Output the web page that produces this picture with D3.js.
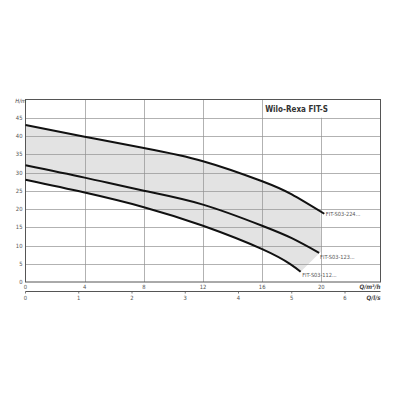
<!DOCTYPE html>
<html>
<head>
<meta charset="utf-8">
<script src="https://cdn.jsdelivr.net/npm/d3@7"></script>
<style>
body { margin: 0; background: #fff; }
svg text { font-family: "DejaVu Sans Condensed", "DejaVu Sans", sans-serif; }
</style>
</head>
<body>
<svg id="chart" width="400" height="400"></svg>
<script>
// pump curves, Q in m3/h, H in m
const curveNames = ["FIT-S03-224...", "FIT-S03-123...", "FIT-S03-112..."];
const flow224 = [0, 4, 8, 12, 16, 18, 20.2];
const head224 = [43, 39.8, 36.7, 33.1, 27.6, 24.0, 18.7];
const flow123 = [0, 4, 8, 12, 16, 18, 19.85];
const head123 = [32, 28.6, 25.0, 21.2, 15.4, 12.0, 8.0];
const flow112 = [0, 4, 8, 12, 16, 17.9, 18.6];
const head112 = [28, 24.5, 20.5, 15.4, 9.0, 4.9, 2.8];
const qTicks = [0, 4, 8, 12, 16, 20];
const lsTicks = [0, 1, 2, 3, 4, 5, 6];
const hTicks = [0, 5, 10, 15, 20, 25, 30, 35, 40, 45];

const svg = d3.select("#chart");
const mLeft = 25.5, mRight = 380.5, mTop = 99.5, mBottom = 282;

const x = d3.scaleLinear().domain([0, 24]).range([mLeft, mRight]);
const y = d3.scaleLinear().domain([0, 50]).range([mBottom, mTop]);
const xls = d3.scaleLinear().domain([0, 24 / 3.6]).range([mLeft, mRight]);

const pts = (q, h) => q.map((d, i) => [d, h[i]]);
const c224 = pts(flow224, head224);
const c123 = pts(flow123, head123);
const c112 = pts(flow112, head112);

const line = d3.line().x(d => x(d[0])).y(d => y(d[1])).curve(d3.curveNatural);

// sample a drawn curve so the shading follows it
function sample(c, q1) {
  const p = svg.append("path").attr("d", line(c)).attr("fill", "none").node();
  const len = p.getTotalLength();
  const out = [];
  for (let i = 0; i <= 200; i++) {
    const pt = p.getPointAtLength(len * i / 200);
    if (x.invert(pt.x) <= q1) out.push([pt.x, pt.y]);
  }
  p.remove();
  return out;
}
const upper = sample(c224, 20);
const lower = sample(c112, 30).reverse();
const poly = upper.concat([[x(20), y(8.4)]], lower);
svg.append("path")
  .attr("d", "M" + poly.map(p => p.join(",")).join("L") + "Z")
  .attr("fill", "#e3e3e3");

// grid
const grid = svg.append("g").attr("stroke", "#909090").attr("stroke-width", 0.7);
hTicks.filter(d => d > 0).forEach(d => {
  grid.append("line").attr("x1", mLeft).attr("x2", mRight)
    .attr("y1", Math.round(y(d)) + 0.5).attr("y2", Math.round(y(d)) + 0.5);
});
qTicks.filter(d => d > 0).forEach(d => {
  grid.append("line").attr("x1", Math.round(x(d)) + 0.5).attr("x2", Math.round(x(d)) + 0.5)
    .attr("y1", d > 16 ? y(45) : mTop).attr("y2", mBottom);
});

// frame
svg.append("rect").attr("x", mLeft).attr("y", mTop)
  .attr("width", mRight - mLeft).attr("height", mBottom - mTop)
  .attr("fill", "none").attr("stroke", "#555").attr("stroke-width", 1);

// title box
svg.append("text").attr("x", x(16) + 3).attr("y", y(47.5) + 3)
  .attr("font-size", 8).attr("font-weight", "bold").attr("fill", "#333")
  .text("Wilo-Rexa FIT-S");

// curves
[c224, c123, c112].forEach(c => {
  svg.append("path").attr("d", line(c))
    .attr("fill", "none").attr("stroke", "#111").attr("stroke-width", 2);
});

// curve labels
const labelPos = [[c224, 1.5, -2.5], [c123, 1, 1.5], [c112, 1.5, 0.5]];
labelPos.forEach((l, i) => {
  const e = l[0][l[0].length - 1];
  svg.append("text").attr("x", x(e[0]) + l[1]).attr("y", y(e[1]) + l[2] + 5)
    .attr("font-size", 5.6).attr("fill", "#555").text(curveNames[i]);
});

// y axis labels
hTicks.forEach(d => {
  svg.append("text").attr("x", mLeft - 3).attr("y", y(d) + 2)
    .attr("text-anchor", "end").attr("font-size", 5.8).attr("fill", "#555").text(d);
});
svg.append("text").attr("x", mLeft + 0.5).attr("y", mTop + 3)
  .attr("text-anchor", "end").attr("font-size", 5.8).attr("font-style", "italic")
  .attr("fill", "#444").text("H/m");

// x axis m3/h labels
qTicks.forEach(d => {
  svg.append("text").attr("x", x(d)).attr("y", mBottom + 7)
    .attr("text-anchor", "middle").attr("font-size", 5.8).attr("fill", "#555").text(d);
});
svg.append("text").attr("x", mRight).attr("y", mBottom + 7)
  .attr("text-anchor", "end").attr("font-size", 6.2).attr("font-weight", "bold")
  .attr("font-style", "italic").attr("fill", "#444").text("Q/m³/h");

// second axis l/s
const lsY = 291.5;
svg.append("line").attr("x1", mLeft).attr("x2", mRight).attr("y1", lsY).attr("y2", lsY)
  .attr("stroke", "#555").attr("stroke-width", 1);
lsTicks.forEach(d => {
  svg.append("line").attr("x1", xls(d)).attr("x2", xls(d)).attr("y1", lsY).attr("y2", lsY + 2)
    .attr("stroke", "#555").attr("stroke-width", 0.8);
  svg.append("text").attr("x", xls(d)).attr("y", lsY + 8)
    .attr("text-anchor", "middle").attr("font-size", 5.8).attr("fill", "#555").text(d);
});
svg.append("text").attr("x", mRight).attr("y", lsY + 8)
  .attr("text-anchor", "end").attr("font-size", 6.2).attr("font-weight", "bold")
  .attr("font-style", "italic").attr("fill", "#444").text("Q/l/s");
</script>
</body>
</html>
